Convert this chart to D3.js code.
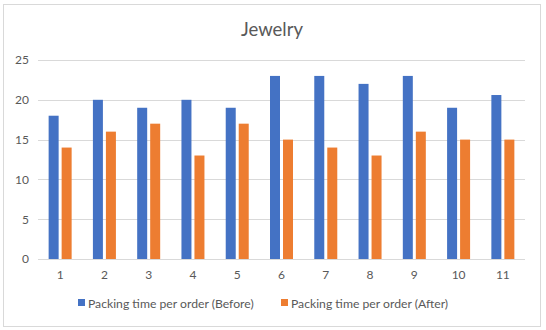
<!DOCTYPE html>
<html>
<head>
<meta charset="utf-8">
<script src="https://cdn.jsdelivr.net/npm/d3@7"></script>
<style>
  html, body { margin: 0; padding: 0; background: #fff; }
  svg { display: block; font-family: Lato, "Noto Sans", sans-serif; }
</style>
</head>
<body>
<svg id="chart" width="546" height="330"></svg>
<script>
const categories = ["1","2","3","4","5","6","7","8","9","10","11"];
const seriesNames = ["Packing time per order (Before)", "Packing time per order (After)"];
const before = [18, 20, 19, 20, 19, 23, 23, 22, 23, 19, 20.6];
const after = [14, 16, 17, 13, 17, 15, 14, 13, 16, 15, 15];
const yTicks = [0, 5, 10, 15, 20, 25];
const colors = ["#4472C4", "#ED7D31"];
const title = "Jewelry";

const svg = d3.select("#chart");
const plot = {left: 38, right: 525, top: 60, bottom: 259};

svg.append("rect").attr("x", 3.5).attr("y", 4.5).attr("width", 537).attr("height", 322)
  .attr("fill", "#fff").attr("stroke", "#d9d9d9").attr("stroke-width", 1);

const x = d3.scaleBand().domain(categories).range([plot.left, plot.right]);
const y = d3.scaleLinear().domain([0, 25]).range([plot.bottom, plot.top]);

// gridlines
svg.append("g").selectAll("line").data(yTicks).join("line")
  .attr("x1", plot.left).attr("x2", plot.right)
  .attr("y1", d => Math.round(y(d)) + 0.5).attr("y2", d => Math.round(y(d)) + 0.5)
  .attr("stroke", "#d9d9d9").attr("stroke-width", 1);

// y axis labels
const yAxis = d3.axisLeft(y).tickValues(yTicks).tickSize(0).tickPadding(0);
const gy = svg.append("g").attr("transform", `translate(29,0)`).call(yAxis);
gy.select(".domain").remove();
gy.selectAll("text").attr("fill", "#595959").attr("font-size", 12).attr("font-family", "Lato, 'Noto Sans', sans-serif");

// x axis labels
const xAxis = d3.axisBottom(x).tickSize(0).tickPadding(0);
const gx = svg.append("g").attr("transform", `translate(0,${plot.bottom + 11})`).call(xAxis);
gx.select(".domain").remove();
gx.selectAll("text").attr("fill", "#595959").attr("font-size", 12).attr("font-family", "Lato, 'Noto Sans', sans-serif");

// bars
const barW = 10, gap = 3;
const inner = d3.scaleOrdinal().domain([0, 1]).range([-(barW + gap / 2), gap / 2]);
const series = [before, after];
series.forEach((vals, si) => {
  svg.append("g").selectAll("rect").data(vals).join("rect")
    .attr("x", (d, i) => x(categories[i]) + x.bandwidth() / 2 + inner(si))
    .attr("width", barW)
    .attr("y", d => y(d))
    .attr("height", d => y(0) - y(d))
    .attr("fill", colors[si]);
});

// title
svg.append("text").attr("x", 272).attr("y", 36).attr("text-anchor", "middle")
  .attr("font-size", 18.5).attr("fill", "#595959").text(title);

// legend
const legendX = [78, 281];
seriesNames.forEach((name, i) => {
  svg.append("rect").attr("x", legendX[i]).attr("y", 299).attr("width", 7).attr("height", 7).attr("fill", colors[i]);
  svg.append("text").attr("x", legendX[i] + 10).attr("y", 307.5).attr("font-size", 12.2)
    .attr("fill", "#595959").text(name);
});
</script>
</body>
</html>
